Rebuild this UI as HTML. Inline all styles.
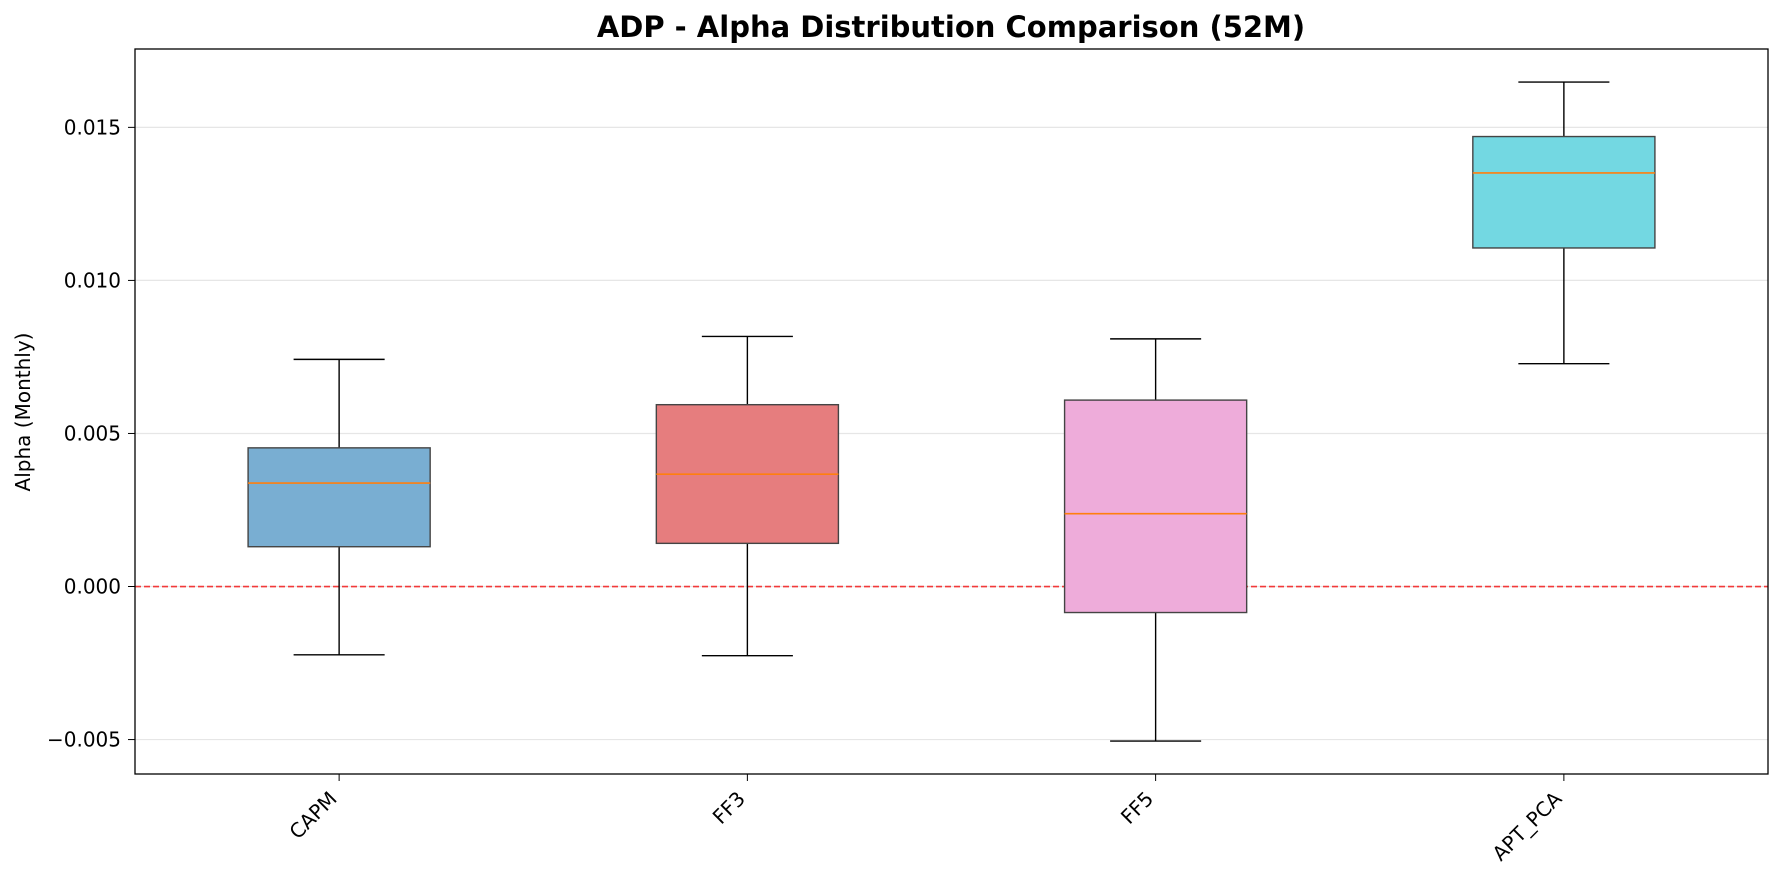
<!DOCTYPE html>
<html><head><meta charset="utf-8"><style>
body{margin:0;background:#fff}
svg{display:block;font-family:"DejaVu Sans","Liberation Sans",sans-serif}
</style></head><body>
<svg id="chart" width="1783" height="884" viewBox="0 0 1783 884" xmlns="http://www.w3.org/2000/svg">
<text x="951" y="37" text-anchor="middle" font-size="29" font-weight="bold">ADP - Alpha Distribution Comparison (52M)</text>
<text transform="translate(30,412) rotate(-90)" text-anchor="middle" font-size="20">Alpha (Monthly)</text>
<g id="grid"></g><g id="marks"></g><g id="axes"></g>
</svg>
<script>
const categories=["CAPM","FF3","FF5","APT_PCA"];
const whiskerLow=[-0.00223,-0.00226,-0.00505,0.00728];
const q1=[0.0013,0.00141,-0.00085,0.01106];
const median=[0.00338,0.00367,0.00238,0.01351];
const q3=[0.00453,0.00594,0.00609,0.0147];
const whiskerHigh=[0.00742,0.00817,0.00809,0.01648];
const yTicks=[-0.005,0,0.005,0.010,0.015];
const yTickLabels=["\u22120.005","0.000","0.005","0.010","0.015"];
const colors=["#79aed2","#e67d7e","#eeacda","#73d8e2"];

const L=135,R=1768,T=49,B=774,yMin=-0.006125,yMax=0.01756;
const NS="http://www.w3.org/2000/svg";
const y=v=>B-(v-yMin)/(yMax-yMin)*(B-T);
const x=i=>L+(i+0.5)/categories.length*(R-L);
const bw=0.446*(R-L)/categories.length;
function mk(tag,attrs,parent){const e=document.createElementNS(NS,tag);for(const k in attrs)e.setAttribute(k,attrs[k]);parent.appendChild(e);return e;}
const grid=document.getElementById('grid'),marks=document.getElementById('marks'),axes=document.getElementById('axes');
yTicks.forEach((t,i)=>{
  const g=mk('line',{x1:L,x2:R,y1:y(t),y2:y(t),stroke:'#e6e6e6','stroke-width':1.2},grid);
  
  
  const tk=mk('line',{x1:L-7,x2:L,y1:y(t),y2:y(t),stroke:'#000','stroke-width':1},axes);
  
  
  const tx=mk('text',{x:L-14,y:y(t)+7,'text-anchor':'end','font-size':20},axes);
  tx.textContent=yTickLabels[i];
  
  
});
const zl=mk('line',{x1:L,x2:R,y1:y(0),y2:y(0),stroke:'#f23a3a','stroke-width':1.6,'stroke-dasharray':'6,3'},marks);


categories.forEach((c,i)=>{
  const cx=x(i);
  const g=mk('g',{},marks);
  
  
  mk('line',{x1:cx,x2:cx,y1:y(q3[i]),y2:y(whiskerHigh[i]),stroke:'#000','stroke-width':1.4},g);
  mk('line',{x1:cx,x2:cx,y1:y(q1[i]),y2:y(whiskerLow[i]),stroke:'#000','stroke-width':1.4},g);
  mk('line',{x1:cx-bw/4,x2:cx+bw/4,y1:y(whiskerHigh[i]),y2:y(whiskerHigh[i]),stroke:'#000','stroke-width':1.4},g);
  mk('line',{x1:cx-bw/4,x2:cx+bw/4,y1:y(whiskerLow[i]),y2:y(whiskerLow[i]),stroke:'#000','stroke-width':1.4},g);
  mk('rect',{x:cx-bw/2,y:y(q3[i]),width:bw,height:y(q1[i])-y(q3[i]),fill:colors[i],stroke:'#444','stroke-width':1.4},g);
  mk('line',{x1:cx-bw/2,x2:cx+bw/2,y1:y(median[i]),y2:y(median[i]),stroke:'#ff7f0e','stroke-width':1.6},g);
  const tk=mk('line',{x1:cx,x2:cx,y1:B,y2:B+7,stroke:'#000','stroke-width':1},axes);
  
  
  const tx=mk('text',{transform:`translate(${cx-1},${B+26}) rotate(-45)`,'text-anchor':'end','font-size':20},axes);
  tx.textContent=c;
  
  
});
const fr=mk('rect',{x:L,y:T,width:R-L,height:B-T,fill:'none',stroke:'#000','stroke-width':1.3},axes);


</script>
</body></html>
